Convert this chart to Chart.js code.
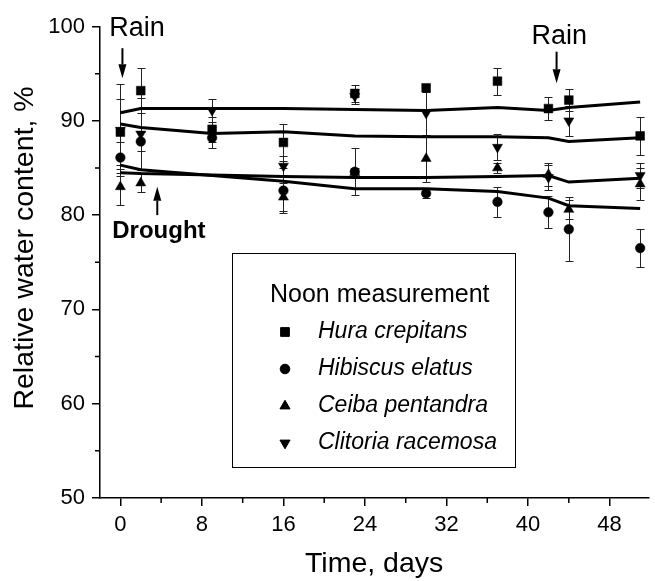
<!DOCTYPE html>
<html><head><meta charset="utf-8">
<script src="https://cdn.jsdelivr.net/npm/chart.js@4.4.0/dist/chart.umd.min.js"></script>
<style>html,body{margin:0;padding:0;background:#fff;overflow:hidden}</style>
</head><body>
<canvas id="c" width="655" height="581" style="display:block;width:655px;height:581px"></canvas>
<script>
// ---- data ----
const days = [0, 2, 9, 16, 23, 30, 37, 42, 44, 51];
const hura = [88.8, 93.2, 89.1, 87.7, 92.9, 93.5, 94.2, 91.3, 92.2, 88.4];
const huraErr = [3.5, 2.4, 1.3, 2.0, 0.9, 0.3, 1.45, 1.25, 1.2, 2.0];
const hibiscus = [86.1, 87.8, 88.2, 82.6, 84.6, 82.3, 81.4, 80.3, 78.5, 76.5];
const hibiscusErr = [1.6, 1.0, 1.1, 2.4, 2.5, 0.5, 1.6, 1.7, 3.4, 2.0];
const ceiba = [83.0, 83.4, null, 81.9, 84.5, 86.0, 85.0, 84.3, 80.6, 83.3];
const ceibaErr = [1.9, 1.0, null, 1.5, 0.5, 2.5, 0.5, 1.2, 1.0, 1.7];
const clitoria = [89.0, 88.6, 91.1, 85.2, 92.6, 90.8, 87.2, 84.0, 90.0, 84.2];
const clitoriaErr = [4.9, 3.8, 1.2, 1.1, 0.8, 2.3, 1.4, 1.3, 1.6, 1.3];
const fitA = [90.85, 91.3, 91.3, 91.3, 91.2, 91.1, 91.4, 91.1, 91.4, 92.0];
const fitB = [89.65, 89.3, 88.65, 88.85, 88.4, 88.3, 88.3, 88.2, 87.8, 88.2];
const fitC = [84.5, 84.4, 84.25, 84.1, 84.0, 84.0, 84.1, 84.2, 83.5, 83.9];
const fitD = [85.3, 84.8, 84.2, 83.6, 82.8, 82.8, 82.5, 81.8, 81.0, 80.7];
const xTicks = [0, 8, 16, 24, 32, 40, 48];
const xMinorTicks = [4, 12, 20, 28, 36, 44];
const yTicks = [50, 60, 70, 80, 90, 100];
const yMinorTicks = [55, 65, 75, 85, 95];
const seriesNames = ['Hura crepitans', 'Hibiscus elatus', 'Ceiba pentandra', 'Clitoria racemosa'];
const legendTitle = 'Noon measurement';
const xTitle = 'Time, days';
const yTitle = 'Relative water content, %';
const notes = [
  {text: 'Rain', bold: false, day: -1.1, value: 99.0, arrowDay: 0.2, from: 97.7, to: 94.5},
  {text: 'Rain', bold: false, day: 40.35, value: 98.15, arrowDay: 42.8, from: 97.33, to: 93.98},
  {text: 'Drought', bold: true, day: -0.8, value: 77.55, arrowDay: 3.62, from: 80.0, to: 83.0}
];

const FONT = "'Liberation Sans', Arial, Helvetica, sans-serif";
Chart.defaults.font.family = FONT;
Chart.defaults.color = '#000';

const pts = arr => days.map((d, i) => ({x: d, y: arr[i]})).filter(p => p.y !== null);
const markerSets = [
  {name: seriesNames[0], values: hura, err: huraErr, style: 'rect', radius: 6.2, rot: 0},
  {name: seriesNames[1], values: hibiscus, err: hibiscusErr, style: 'circle', radius: 4.8, rot: 0},
  {name: seriesNames[2], values: ceiba, err: ceibaErr, style: 'triangle', radius: 5.8, rot: 0},
  {name: seriesNames[3], values: clitoria, err: clitoriaErr, style: 'triangle', radius: 5.8, rot: 180}
];

const datasets = [];
[fitA, fitB, fitC, fitD].forEach((f, i) => datasets.push({
  type: 'line', label: 'fit' + i, data: pts(f), borderColor: '#000', borderWidth: 3,
  pointRadius: 0, tension: 0, fill: false, showLine: true, order: 2
}));
markerSets.forEach(m => datasets.push({
  type: 'scatter', label: m.name, data: pts(m.values), pointStyle: m.style,
  pointRadius: m.radius, pointRotation: m.rot, backgroundColor: '#000', borderColor: '#000',
  borderWidth: 0.5, showLine: false, order: 1, errors: m.err, values: m.values
}));

const errorBars = {
  id: 'errorBars',
  beforeDatasetsDraw(chart) {
    const {ctx, scales: {x, y}} = chart;
    ctx.save();
    ctx.strokeStyle = '#222';
    ctx.lineWidth = 1;
    chart.data.datasets.forEach(ds => {
      if (!ds.errors) return;
      ds.values.forEach((v, i) => {
        const e = ds.errors[i];
        if (v === null || e === null) return;
        const px = Math.round(x.getPixelForValue(days[i])) + 0.5;
        const yt = Math.round(y.getPixelForValue(v + e)) + 0.5;
        const yb = Math.round(y.getPixelForValue(v - e)) + 0.5;
        ctx.beginPath();
        ctx.moveTo(px, yt); ctx.lineTo(px, yb);
        ctx.moveTo(px - 4, yt); ctx.lineTo(px + 4, yt);
        ctx.moveTo(px - 4, yb); ctx.lineTo(px + 4, yb);
        ctx.stroke();
      });
    });
    ctx.restore();
  }
};

function drawMarker(ctx, style, r, rot, cx, cy) {
  Chart.helpers.drawPoint(ctx, {pointStyle: style, rotation: rot, radius: r, borderWidth: 0.5}, cx, cy);
}

const extras = {
  id: 'extras',
  afterDraw(chart) {
    const {ctx, scales: {x, y}, chartArea} = chart;
    ctx.save();
    // minor ticks
    ctx.strokeStyle = '#000';
    ctx.lineWidth = 1.5;
    ctx.beginPath();
    xMinorTicks.forEach(v => {
      const px = x.getPixelForValue(v);
      ctx.moveTo(px, chartArea.bottom); ctx.lineTo(px, chartArea.bottom + 5);
    });
    yMinorTicks.forEach(v => {
      const py = y.getPixelForValue(v);
      ctx.moveTo(chartArea.left, py); ctx.lineTo(chartArea.left - 5, py);
    });
    ctx.stroke();
    // y axis title
    ctx.fillStyle = '#000';
    ctx.save();
    ctx.translate(33, 248);
    ctx.rotate(-Math.PI / 2);
    ctx.font = '28.5px ' + FONT;
    ctx.textAlign = 'center';
    ctx.textBaseline = 'alphabetic';
    ctx.fillText(yTitle, 0, 0);
    ctx.restore();
    // annotations
    notes.forEach(n => {
      ctx.font = (n.bold ? 'bold 24px ' : '27px ') + FONT;
      ctx.textBaseline = 'alphabetic';
      ctx.textAlign = 'left';
      ctx.fillText(n.text, x.getPixelForValue(n.day), y.getPixelForValue(n.value));
      const ax = x.getPixelForValue(n.arrowDay);
      const y0 = y.getPixelForValue(n.from), y1 = y.getPixelForValue(n.to);
      const dir = y1 > y0 ? 1 : -1;
      const head = 14;
      ctx.lineWidth = 2;
      ctx.beginPath();
      ctx.moveTo(ax, y0); ctx.lineTo(ax, y1 - dir * head);
      ctx.stroke();
      ctx.beginPath();
      ctx.moveTo(ax, y1); ctx.lineTo(ax - 4, y1 - dir * head); ctx.lineTo(ax + 4, y1 - dir * head);
      ctx.closePath(); ctx.fill();
    });
    // legend
    const bx = 232, by = 253, bw = 283, bh = 214;
    ctx.lineWidth = 1;
    ctx.strokeStyle = '#000';
    ctx.strokeRect(bx + 0.5, by + 0.5, bw, bh);
    ctx.font = '25px ' + FONT;
    ctx.textBaseline = 'middle';
    ctx.fillText(legendTitle, 270, 295);
    markerSets.forEach((m, i) => {
      const cy = 332 + i * 37;
      drawMarker(ctx, m.style, m.radius, m.rot, 285, cy);
      ctx.font = 'italic 23px ' + FONT;
      ctx.fillText(m.name, 318, cy);
    });
    ctx.restore();
  }
};

new Chart(document.getElementById('c'), {
  type: 'scatter',
  data: {datasets},
  options: {
    responsive: false, animation: false, devicePixelRatio: 1,
    layout: {padding: {top: 26.5, right: 0, left: 0, bottom: 0}},
    plugins: {legend: {display: false}, tooltip: {enabled: false}},
    scales: {
      x: {
        type: 'linear', min: -2, max: 51.8,
        afterBuildTicks: s => { s.ticks = xTicks.map(v => ({value: v})); },
        afterFit: s => { s.height = 83; },
        ticks: {font: {size: 22}, color: '#000', padding: 6, maxRotation: 0, autoSkip: false},
        grid: {drawOnChartArea: false, drawTicks: true, tickLength: 8, color: '#000', lineWidth: 1.5},
        border: {display: true, color: '#000', width: 1.5},
        title: {display: true, text: xTitle, font: {size: 28.5}, color: '#000', padding: {top: 0, bottom: 0}}
      },
      y: {
        min: 50, max: 100,
        afterBuildTicks: s => { s.ticks = yTicks.map(v => ({value: v})); },
        afterFit: s => { s.width = 100; },
        ticks: {font: {size: 22}, color: '#000', padding: 7},
        grid: {drawOnChartArea: false, drawTicks: true, tickLength: 8, color: '#000', lineWidth: 1.5},
        border: {display: true, color: '#000', width: 1.5},
        title: {display: false}
      }
    }
  },
  plugins: [errorBars, extras]
});
</script>
</body></html>
